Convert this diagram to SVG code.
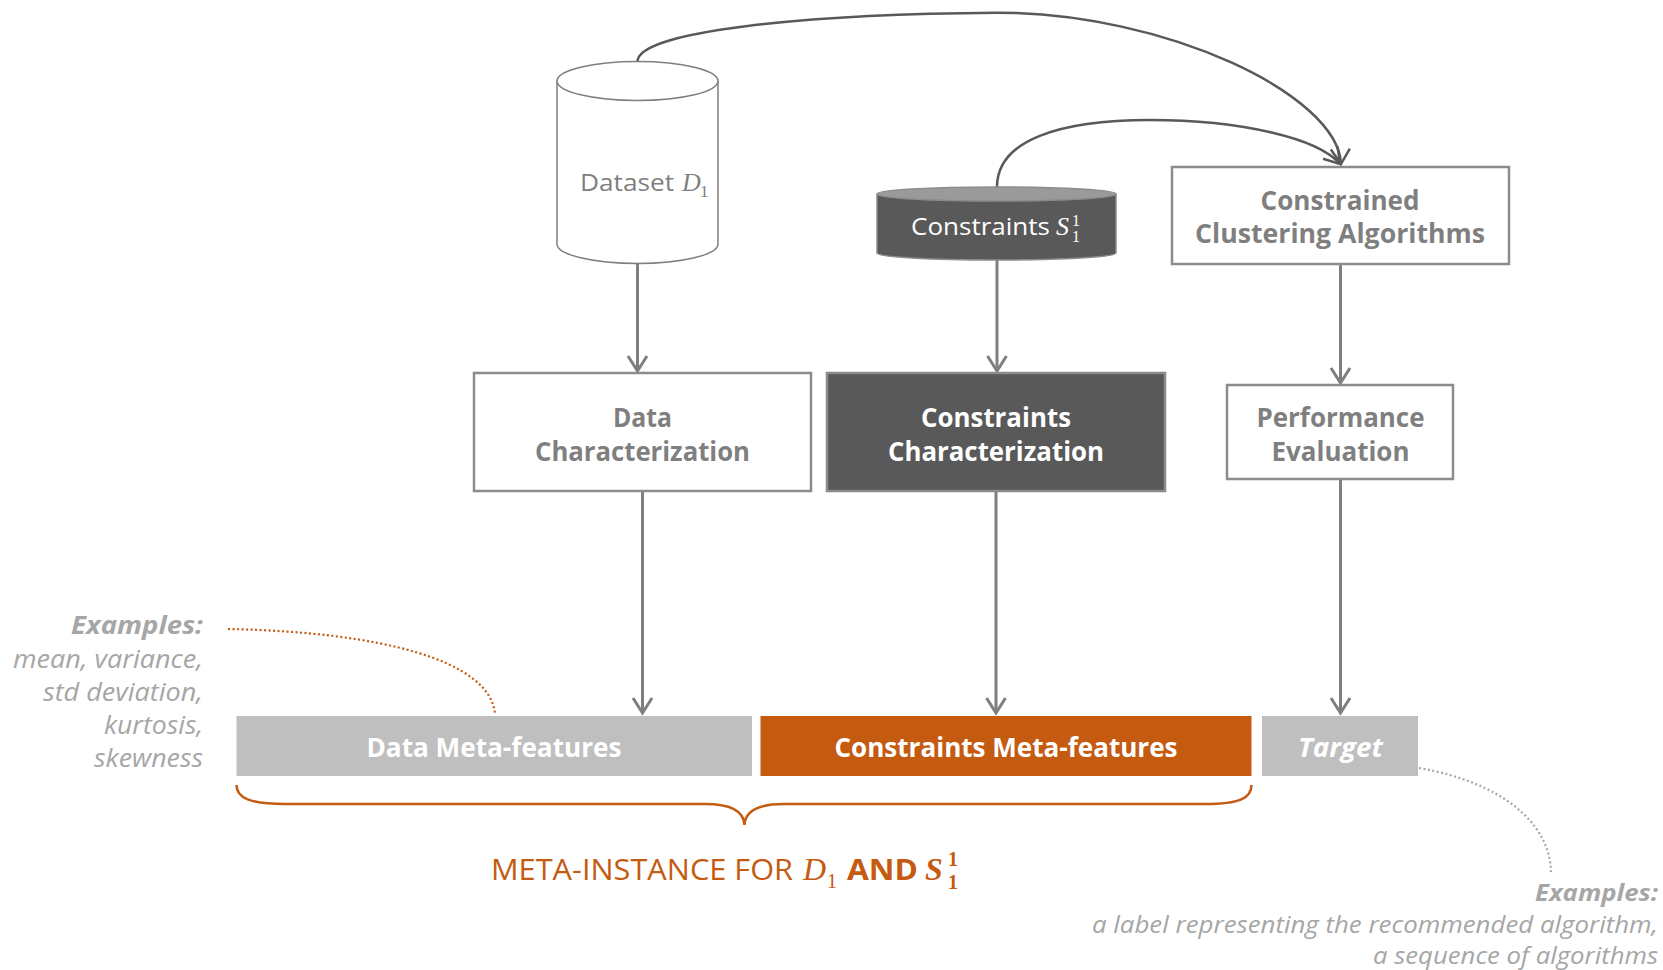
<svg xmlns="http://www.w3.org/2000/svg" width="1663" height="970" viewBox="0 0 1663 970">
<style>
.box{fill:#ffffff;stroke:#8c8c8c;stroke-width:2.5}
.dark{fill:#595959;stroke:#8c8c8c;stroke-width:2.5}
.lbl{font-family:"Open Sans","Noto Sans",sans-serif;font-weight:700;font-size:26px;text-anchor:middle}
.g{fill:#7f7f7f}
.w{fill:#ffffff}
.o{fill:#c55a11}
.lt{font-family:"Open Sans","Noto Sans",sans-serif;font-size:24px}
.math{font-family:"Liberation Serif","DejaVu Serif",serif;font-style:italic}
.num{font-family:"Liberation Serif","DejaVu Serif",serif;font-style:normal}
.ex{font-family:"Open Sans","Noto Sans",sans-serif;font-style:italic;fill:#a6a6a6;text-anchor:end}
.arr{fill:none;stroke:#7f7f7f;stroke-width:3;marker-end:url(#ah)}
.crv{fill:none;stroke:#595959;stroke-width:2.5;marker-end:url(#ah2)}
</style>
<defs>
<marker id="ah" markerUnits="userSpaceOnUse" markerWidth="24" markerHeight="24" refX="16" refY="10" orient="auto" overflow="visible">
<path d="M1,0.5 L16,10 L1,19.5" fill="none" stroke="#7f7f7f" stroke-width="3"/>
</marker>
<marker id="ah2" markerUnits="userSpaceOnUse" markerWidth="24" markerHeight="24" refX="16" refY="10" orient="auto" overflow="visible">
<path d="M1,0.5 L16,10 L1,19.5" fill="none" stroke="#595959" stroke-width="2.5"/>
</marker>
</defs>
<rect width="1663" height="970" fill="#ffffff"/>

<g id="connectors">
<path class="crv" d="M637.5,61.5 C637.5,31 806,14 997,12.7 C1166,12.7 1338,95 1341,164"/>
<path class="crv" d="M997,187 C997,140 1060,120 1150,120 C1240,120 1318,138 1340,164"/>
<path class="arr" d="M637.5,264 L637.5,371"/>
<path class="arr" d="M997,260 L997,371"/>
<path class="arr" d="M1340.5,264 L1340.5,383"/>
<path class="arr" d="M642.5,491 L642.5,713"/>
<path class="arr" d="M996,491 L996,713"/>
<path class="arr" d="M1340.5,479 L1340.5,713"/>
<path d="M228,629 C380,632 490,660 495,714" fill="none" stroke="#c55a11" stroke-width="2.2" stroke-dasharray="2 2.5"/>
<path d="M1419,768 C1500,782 1550,822 1551,872" fill="none" stroke="#a6a6a6" stroke-width="2.2" stroke-dasharray="2 2.5"/>
</g>

<g id="dataset">
<path d="M557,81 L557,244 A80.5,19.5 0 0 0 718,244 L718,81" fill="#ffffff" stroke="#7f7f7f" stroke-width="1.5"/>
<ellipse cx="637.5" cy="81" rx="80.5" ry="19.5" fill="#ffffff" stroke="#7f7f7f" stroke-width="1.5"/>
<text x="580" y="191" class="lt g" textLength="94" lengthAdjust="spacingAndGlyphs">Dataset</text>
<text x="682" y="191" class="math g" font-size="26">D</text>
<text x="700" y="197" class="num g" font-size="17">1</text>
</g>

<g id="constraints">
<path d="M877,194 L877,253 A119.5,7 0 0 0 1116,253 L1116,194" fill="#595959" stroke="#8c8c8c" stroke-width="1.5"/>
<ellipse cx="996.5" cy="194" rx="119.5" ry="7" fill="#9a9a9a" stroke="#8c8c8c" stroke-width="1.5"/>
<text x="911" y="235" class="lt w" textLength="139" lengthAdjust="spacingAndGlyphs">Constraints</text>
<text x="1056" y="235" class="math w" font-size="26">S</text>
<text x="1072" y="226" class="num w" font-size="16">1</text>
<text x="1072" y="242" class="num w" font-size="16">1</text>
</g>

<g id="algorithms">
<rect class="box" x="1172" y="167" width="337" height="97"/>
<text class="lbl g" x="1340" y="210" textLength="159" lengthAdjust="spacingAndGlyphs">Constrained</text>
<text class="lbl g" x="1340" y="243" textLength="290" lengthAdjust="spacingAndGlyphs">Clustering Algorithms</text>
</g>

<g id="data-char">
<rect class="box" x="474" y="373" width="337" height="118"/>
<text class="lbl g" x="642.5" y="427" textLength="59" lengthAdjust="spacingAndGlyphs">Data</text>
<text class="lbl g" x="642.5" y="461" textLength="215" lengthAdjust="spacingAndGlyphs">Characterization</text>
</g>

<g id="constraints-char">
<rect class="dark" x="827" y="373" width="338" height="118"/>
<text class="lbl w" x="996" y="427" textLength="150" lengthAdjust="spacingAndGlyphs">Constraints</text>
<text class="lbl w" x="996" y="461" textLength="216" lengthAdjust="spacingAndGlyphs">Characterization</text>
</g>

<g id="performance">
<rect class="box" x="1227" y="385" width="226" height="94"/>
<text class="lbl g" x="1340.5" y="427" textLength="168" lengthAdjust="spacingAndGlyphs">Performance</text>
<text class="lbl g" x="1340.5" y="461" textLength="138" lengthAdjust="spacingAndGlyphs">Evaluation</text>
</g>

<g id="data-meta">
<rect x="236.5" y="716" width="515.5" height="60" fill="#bfbfbf"/>
<text class="lbl w" x="494" y="757" textLength="255" lengthAdjust="spacingAndGlyphs">Data Meta-features</text>
</g>

<g id="constraints-meta">
<rect x="760.5" y="716" width="491" height="60" fill="#c55a11"/>
<text class="lbl w" x="1006" y="757" textLength="343" lengthAdjust="spacingAndGlyphs">Constraints Meta-features</text>
</g>

<g id="target">
<rect x="1262" y="716" width="156" height="60" fill="#bfbfbf"/>
<text class="lbl w" x="1340.5" y="757" font-style="italic" textLength="85" lengthAdjust="spacingAndGlyphs">Target</text>
</g>

<g id="meta-instance">
<path d="M236.5,785 C236.5,798 250,804 285,804 L705,804 C732,804 744,812 744.5,825 C745,812 757,804 784,804 L1205,804 C1240,804 1251.5,798 1251.5,785" fill="none" stroke="#c55a11" stroke-width="2.5"/>
<text x="491" y="880" class="o" font-family="Open Sans,Noto Sans,sans-serif" font-size="29" textLength="302" lengthAdjust="spacingAndGlyphs">META-INSTANCE FOR</text>
<text x="803" y="880" class="math o" font-size="32">D</text>
<text x="827" y="888" class="num o" font-size="20">1</text>
<text x="847" y="880" class="o" font-family="Open Sans,Noto Sans,sans-serif" font-weight="700" font-size="29" textLength="71" lengthAdjust="spacingAndGlyphs">AND</text>
<text x="925" y="880" class="math o" font-weight="700" font-size="32">S</text>
<text x="948" y="866" class="num o" font-weight="700" font-size="20">1</text>
<text x="948" y="889" class="num o" font-weight="700" font-size="20">1</text>
</g>

<g id="examples-data">
<text class="ex" x="203" y="634" font-size="25" font-weight="700" textLength="132" lengthAdjust="spacingAndGlyphs">Examples:</text>
<text class="ex" x="203" y="668" font-size="25" textLength="190" lengthAdjust="spacingAndGlyphs">mean, variance,</text>
<text class="ex" x="203" y="701" font-size="25" textLength="160" lengthAdjust="spacingAndGlyphs">std deviation,</text>
<text class="ex" x="203" y="734" font-size="25" textLength="99" lengthAdjust="spacingAndGlyphs">kurtosis,</text>
<text class="ex" x="203" y="767" font-size="25" textLength="109" lengthAdjust="spacingAndGlyphs">skewness</text>
</g>

<g id="examples-target">
<text class="ex" x="1658" y="901" font-size="24" font-weight="700" textLength="123" lengthAdjust="spacingAndGlyphs">Examples:</text>
<text class="ex" x="1658" y="933" font-size="24" textLength="566" lengthAdjust="spacingAndGlyphs">a label representing the recommended algorithm,</text>
<text class="ex" x="1658" y="964" font-size="24" textLength="285" lengthAdjust="spacingAndGlyphs">a sequence of algorithms</text>
</g>
</svg>
